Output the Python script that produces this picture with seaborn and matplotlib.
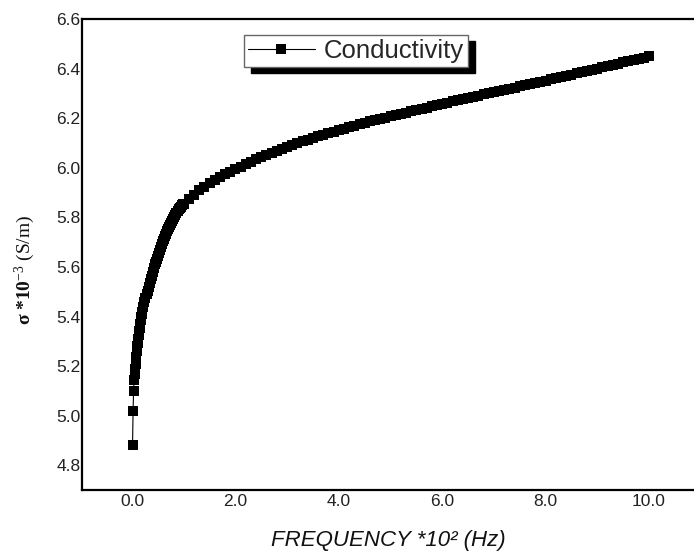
import matplotlib
matplotlib.use("Agg")
import matplotlib.pyplot as plt
import seaborn as sns
from matplotlib.patches import Rectangle
from matplotlib.ticker import FormatStrFormatter

# frequency in units of 10^2 Hz
freq = [
    0.01, 0.02, 0.03, 0.04, 0.05, 0.06, 0.07, 0.08, 0.09, 0.10,
    0.11, 0.12, 0.13, 0.14, 0.15, 0.16, 0.17, 0.18, 0.19, 0.20,
    0.22, 0.24, 0.26, 0.28, 0.30, 0.32, 0.34, 0.36, 0.38, 0.40,
    0.42, 0.44, 0.46, 0.48, 0.50, 0.52, 0.54, 0.56, 0.58, 0.60,
    0.62, 0.64, 0.66, 0.68, 0.70, 0.72, 0.74, 0.76, 0.78, 0.80,
    0.82, 0.84, 0.86, 0.88, 0.90, 0.92, 0.94, 0.96, 0.98,
    1.0, 1.1, 1.2, 1.3, 1.4, 1.5, 1.6, 1.7, 1.8, 1.9,
    2.0, 2.1, 2.2, 2.3, 2.4, 2.5, 2.6, 2.7, 2.8, 2.9,
    3.0, 3.1, 3.2, 3.3, 3.4, 3.5, 3.6, 3.7, 3.8, 3.9,
    4.0, 4.1, 4.2, 4.3, 4.4, 4.5, 4.6, 4.7, 4.8, 4.9,
    5.0, 5.1, 5.2, 5.3, 5.4, 5.5, 5.6, 5.7, 5.8, 5.9,
    6.0, 6.1, 6.2, 6.3, 6.4, 6.5, 6.6, 6.7, 6.8, 6.9,
    7.0, 7.1, 7.2, 7.3, 7.4, 7.5, 7.6, 7.7, 7.8, 7.9,
    8.0, 8.1, 8.2, 8.3, 8.4, 8.5, 8.6, 8.7, 8.8, 8.9,
    9.0, 9.1, 9.2, 9.3, 9.4, 9.5, 9.6, 9.7, 9.8, 9.9,
    10.0,
]

# conductivity in units of 10^-3 S/m
sigma = [
    4.88, 5.02, 5.10, 5.145, 5.17, 5.19, 5.21, 5.235, 5.26, 5.28,
    5.295, 5.31, 5.325, 5.34, 5.355, 5.37, 5.385, 5.40, 5.41, 5.42,
    5.44, 5.46, 5.475, 5.49, 5.505, 5.52, 5.535, 5.55, 5.565, 5.58,
    5.595, 5.61, 5.62, 5.632, 5.644, 5.657, 5.669, 5.681, 5.692, 5.703,
    5.714, 5.724, 5.734, 5.744, 5.753, 5.762, 5.771, 5.779, 5.787, 5.795,
    5.803, 5.811, 5.818, 5.825, 5.832, 5.838, 5.843, 5.848, 5.852,
    5.856, 5.874, 5.892, 5.909, 5.924, 5.938, 5.951, 5.963, 5.974, 5.985,
    5.995, 6.005, 6.015, 6.025, 6.034, 6.043, 6.052, 6.061, 6.069, 6.077,
    6.085, 6.093, 6.100, 6.107, 6.114, 6.121, 6.128, 6.134, 6.140, 6.146,
    6.152, 6.158, 6.164, 6.170, 6.175, 6.181, 6.187, 6.192, 6.197, 6.203,
    6.208, 6.213, 6.218, 6.223, 6.228, 6.233, 6.238, 6.243, 6.248, 6.253,
    6.258, 6.263, 6.268, 6.272, 6.277, 6.282, 6.286, 6.291, 6.296, 6.300,
    6.305, 6.310, 6.314, 6.319, 6.324, 6.329, 6.333, 6.338, 6.343, 6.347,
    6.352, 6.357, 6.362, 6.366, 6.371, 6.376, 6.381, 6.386, 6.390, 6.395,
    6.400, 6.405, 6.410, 6.415, 6.420, 6.425, 6.430, 6.435, 6.440, 6.445,
    6.450,
]

x_ticks = [0, 2, 4, 6, 8, 10]
y_ticks = [4.8, 5.0, 5.2, 5.4, 5.6, 5.8, 6.0, 6.2, 6.4, 6.6]

sns.set_theme(style="white")
plt.rcParams["font.family"] = ["Liberation Sans", "DejaVu Sans"]
plt.rcParams["mathtext.fontset"] = "custom"
plt.rcParams["mathtext.rm"] = "Liberation Serif"
plt.rcParams["mathtext.bf"] = "Liberation Serif:bold"
plt.rcParams["mathtext.it"] = "Liberation Serif:italic"

fig = plt.figure(figsize=(6.94, 5.54), dpi=100)
ax = fig.add_axes([0.118, 0.1155, 0.882, 0.85])

sns.lineplot(x=freq, y=sigma, ax=ax, color="black", linewidth=0.8,
             marker="s", markersize=7, markeredgewidth=0,
             estimator=None, sort=False, label="Conductivity")

ax.set_xlim(-0.97, 10.87)
ax.set_ylim(4.7, 6.6)
ax.set_xticks(x_ticks)
ax.set_yticks(y_ticks)
ax.xaxis.set_major_formatter(FormatStrFormatter("%.1f"))
ax.yaxis.set_major_formatter(FormatStrFormatter("%.1f"))
ax.tick_params(axis="both", length=0, labelsize=12.5, colors="#222222")
ax.tick_params(axis="y", pad=1)
ax.tick_params(axis="x", pad=3)

for side in ["left", "top", "bottom"]:
    ax.spines[side].set_color("black")
    ax.spines[side].set_linewidth(1.6)
ax.spines["right"].set_visible(False)

ax.set_xlabel("FREQUENCY *10\u00b2 (Hz)", fontsize=16, fontstyle="italic",
              color="#111111")
ax.xaxis.set_label_coords(0.5, -0.085)
ax.set_ylabel(r"$\mathbf{σ\ {*}10}^{-3}$ (S/m)", fontsize=14,
              family="Liberation Serif", color="#111111")
ax.yaxis.set_label_coords(-0.073, 0.467)

leg = ax.legend(loc="upper left", bbox_to_anchor=(0.265, 0.966),
                borderaxespad=0, fancybox=False, frameon=True,
                fontsize=18.5, handlelength=2.6, handletextpad=0.35,
                borderpad=0.15, framealpha=1.0, facecolor="white")
leg.get_frame().set_edgecolor("#666666")
leg.get_frame().set_linewidth(1.0)

# hard black drop shadow behind the legend box
fig.canvas.draw()
bb = leg.get_window_extent().transformed(ax.transAxes.inverted())
dx = 7 / (ax.bbox.width)
dy = 6 / (ax.bbox.height)
ax.add_patch(Rectangle((bb.x0 + dx, bb.y0 - dy), bb.width, bb.height,
                       transform=ax.transAxes, color="black", zorder=4.5,
                       clip_on=False))

plt.savefig("out.png", dpi=100)
